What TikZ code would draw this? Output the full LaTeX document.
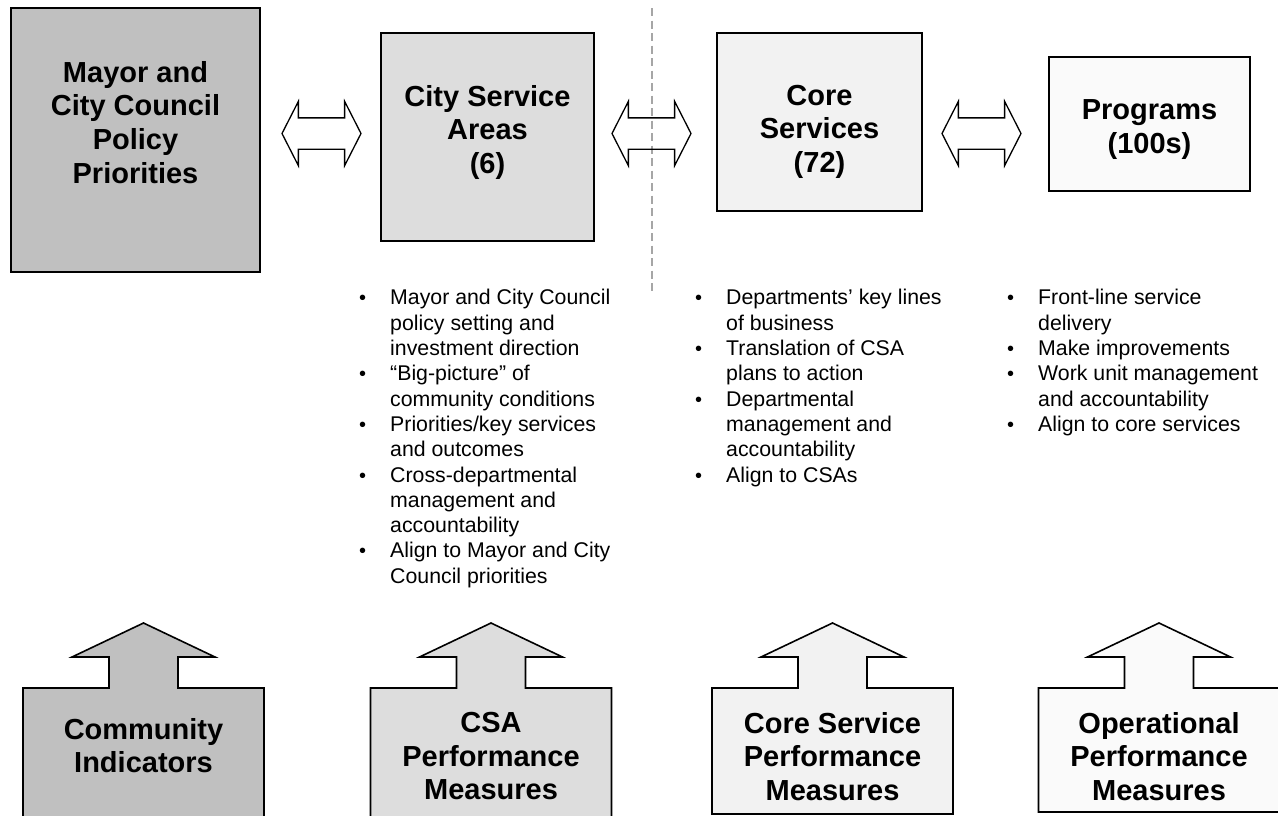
\documentclass[tikz,border=0pt]{standalone}
\usepackage{fontspec}
\setmainfont{Liberation Sans}
\usetikzlibrary{shapes.arrows}
\usetikzlibrary{positioning}

\definecolor{tierA}{HTML}{C0C0C0}
\definecolor{tierB}{HTML}{DDDDDD}
\definecolor{tierC}{HTML}{F2F2F2}
\definecolor{tierD}{HTML}{FAFAFA}
\definecolor{divgray}{HTML}{A6A6A6}

\newcommand\bul{{\fontsize{20}{20}\selectfont •}}

\tikzset{
    tierbox/.style={draw=black,line width=1.6pt,inner sep=0pt},
    tiertext/.style={font=\bfseries\fontsize{29}{33.7}\selectfont,
        align=center,inner sep=0pt,anchor=north},
    twoway/.style={double arrow,draw=black,line width=1.3pt,
        inner xsep=0pt,inner ysep=15pt,
        minimum height=79pt,minimum width=63pt,
        double arrow head extend=16.5pt,double arrow tip angle=126},
    bullets/.style={font=\fontsize{21.3}{25.3}\selectfont,
        inner sep=0pt,anchor=north west},
    pillar/.style={draw=black,line width=1.6pt,line join=miter},
    divider/.style={draw=divgray,line width=1.5pt,dash pattern=on 8pt off 4.5pt}
}

\begin{document}
\begin{tikzpicture}[x=1pt,y=-1pt]
        \useasboundingbox (0,0) rectangle (1278,815);
        % Split between policy and delivery
        \draw [divider] (652,8) -- (652,295);
        % Top row
        \node (mayor) at (135.5,140) [tierbox,fill=tierA,
            minimum width=249pt,minimum height=264pt] {};
        \node (csa) at (487.5,137) [tierbox,fill=tierB,
            minimum width=213pt,minimum height=208pt] {};
        \node (core) at (819.5,122) [tierbox,fill=tierC,
            minimum width=205pt,minimum height=178pt] {};
        \node (prog) at (1149.5,124) [tierbox,fill=tierD,
            minimum width=201pt,minimum height=134pt] {};
        \node (mayortext) [tiertext,below=53.6pt of mayor.north]
            {Mayor and\\City Council\\Policy\\Priorities};
        \node (csatext) [tiertext,below=52.6pt of csa.north]
            {City Service\\Areas\\(6)};
        \node (coretext) [tiertext,below=52.6pt of core.north]
            {Core\\Services\\(72)};
        \node (progtext) [tiertext,below=43.6pt of prog.north]
            {Programs\\(100s)};
        \node (mayorcsa) at (321.5,133.5) [twoway] {};
        \node (csacore) at (651.5,133.5) [twoway] {};
        \node (coreprog) at (981.5,133.5) [twoway] {};
        % Roles of each level
        \node (csalist) at (359,287) [bullets] {%
            \begin{tabular}{@{}p{31pt}@{}l@{}}
            \bul & Mayor and City Council\\
                 & policy setting and\\
                 & investment direction\\
            \bul & “Big-picture” of\\
                 & community conditions\\
            \bul & Priorities/key services\\
                 & and outcomes\\
            \bul & Cross-departmental\\
                 & management and\\
                 & accountability\\
            \bul & Align to Mayor and City\\
                 & Council priorities
            \end{tabular}};
        \node (corelist) at (695,287) [bullets] {%
            \begin{tabular}{@{}p{31pt}@{}l@{}}
            \bul & Departments’ key lines\\
                 & of business\\
            \bul & Translation of CSA\\
                 & plans to action\\
            \bul & Departmental\\
                 & management and\\
                 & accountability\\
            \bul & Align to CSAs
            \end{tabular}};
        \node (proglist) at (1007,287) [bullets] {%
            \begin{tabular}{@{}p{31pt}@{}l@{}}
            \bul & Front-line service\\
                 & delivery\\
            \bul & Make improvements\\
            \bul & Work unit management\\
                 & and accountability\\
            \bul & Align to core services
            \end{tabular}};
        % Measures pushing up
        \foreach \cx/\shade/\bot in {143.5/tierA/830,491/tierB/830,
                832.5/tierC/814,1159/tierD/812}
            \draw [pillar,fill=\shade] (\cx-120.5,\bot) -- (\cx-120.5,688)
                -- (\cx-34.5,688) -- (\cx-34.5,657) -- (\cx-71.5,657)
                -- (\cx,623) -- (\cx+71.5,657) -- (\cx+34.5,657)
                -- (\cx+34.5,688) -- (\cx+120.5,688) -- (\cx+120.5,\bot)
                -- cycle;
        \node (commtext) at (143.5,718) [tiertext] {Community\\Indicators};
        \node (csameas) at (491,712) [tiertext] {CSA\\Performance\\Measures};
        \node (coremeas) at (832.5,712) [tiertext]
            {Core Service\\Performance\\Measures};
        \node (opsmeas) at (1159,712) [tiertext]
            {Operational\\Performance\\Measures};
\end{tikzpicture}
\end{document}
